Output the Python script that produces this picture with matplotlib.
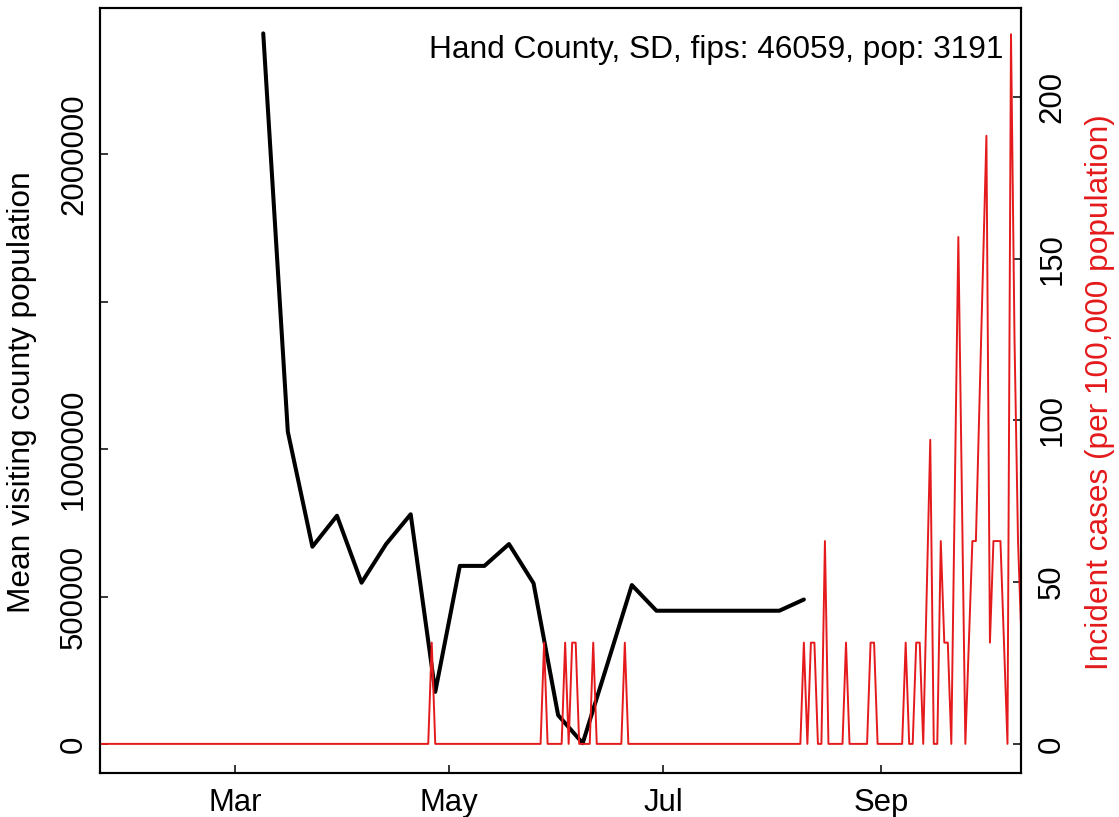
import numpy as np
import pandas as pd
import matplotlib
matplotlib.use("Agg")
import matplotlib.pyplot as plt

plt.rcParams["font.family"] = ["Liberation Sans", "DejaVu Sans"]

RED = "#E41A1C"

# weekly mean visiting-county population (black line, left axis)
visit_dates = ["2020-03-09", "2020-03-16", "2020-03-23", "2020-03-30", "2020-04-06",
               "2020-04-13", "2020-04-20", "2020-04-27", "2020-05-04", "2020-05-11",
               "2020-05-18", "2020-05-25", "2020-06-01", "2020-06-08", "2020-06-15",
               "2020-06-22", "2020-06-29", "2020-07-06", "2020-07-13", "2020-07-20",
               "2020-07-27", "2020-08-03", "2020-08-10"]
visit_pop = [2409000, 1059000, 669000, 774000, 547000,
             678000, 779000, 177000, 604000, 604000,
             678000, 545000, 98000, 3000, 270000,
             539000, 452000, 452000, 452000, 452000,
             452000, 452000, 490000]

# daily incident cases per 100,000 (red line, right axis)
case_dates = ["2020-01-21", "2020-04-25", "2020-04-26", "2020-04-27",
              "2020-05-27", "2020-05-28", "2020-05-29",
              "2020-06-02", "2020-06-03", "2020-06-04", "2020-06-05", "2020-06-06", "2020-06-07",
              "2020-06-10", "2020-06-11", "2020-06-12",
              "2020-06-19", "2020-06-20", "2020-06-21",
              "2020-08-09", "2020-08-10", "2020-08-11", "2020-08-12", "2020-08-13",
              "2020-08-14", "2020-08-15", "2020-08-16", "2020-08-17",
              "2020-08-21", "2020-08-22", "2020-08-23",
              "2020-08-28", "2020-08-29", "2020-08-30", "2020-08-31",
              "2020-09-07", "2020-09-08", "2020-09-09", "2020-09-10", "2020-09-11",
              "2020-09-12", "2020-09-13", "2020-09-15", "2020-09-16", "2020-09-17",
              "2020-09-18", "2020-09-19", "2020-09-20", "2020-09-21", "2020-09-23",
              "2020-09-25", "2020-09-27", "2020-09-28", "2020-10-01", "2020-10-02",
              "2020-10-03", "2020-10-04", "2020-10-05", "2020-10-07", "2020-10-08",
              "2020-10-09", "2020-10-10", "2020-10-11"]
case_rate = [0, 0, 31.3, 0,
             0, 31.3, 0,
             0, 31.3, 0, 31.3, 31.3, 0,
             0, 31.3, 0,
             0, 31.3, 0,
             0, 31.3, 0, 31.3, 31.3,
             0, 0, 62.7, 0,
             0, 31.3, 0,
             0, 31.3, 31.3, 0,
             0, 31.3, 0, 0, 31.3,
             31.3, 0, 94.0, 0, 0,
             62.7, 31.3, 31.3, 0, 156.7,
             0, 62.7, 62.7, 188.0, 31.3,
             62.7, 62.7, 62.7, 0, 219.4,
             125.3, 62.7, 31.3]

month_ticks = ["2020-03-01", "2020-05-01", "2020-07-01", "2020-09-01"]
month_labels = ["Mar", "May", "Jul", "Sep"]
pop_ticks = [0, 500000, 1000000, 1500000, 2000000]
pop_labels = ["0", "500000", "1000000", "", "2000000"]
rate_ticks = [0, 50, 100, 150, 200]

W, H = 1119, 817
fig = plt.figure(figsize=(W / 100, H / 100), dpi=100)
ax = fig.add_axes([100 / W, 1 - 773 / H, 920.5 / W, 765 / H])

ax.plot(pd.to_datetime(visit_dates), visit_pop, color="black", linewidth=2.9,
        solid_joinstyle="round", solid_capstyle="round")
ax.set_xlim(pd.Timestamp("2020-01-22 12:00"), pd.Timestamp("2020-10-10 17:00"))
ax.set_ylim(-98000, 2495000)
ax.set_xticks(pd.to_datetime(month_ticks))
ax.set_xticklabels(month_labels)
ax.set_yticks(pop_ticks)
ax.set_yticklabels(pop_labels, rotation=90, va="center")
ax.tick_params(direction="in", length=5.8, width=1.1, labelsize=22.4)
ax.tick_params(axis="y", pad=8)
ax.tick_params(axis="x", pad=11)

ax2 = ax.twinx()
ax2.plot(pd.to_datetime(case_dates), case_rate, color=RED, linewidth=1.4)
ax2.set_ylim(-9.0, 227.5)
ax2.set_yticks(rate_ticks)
ax2.set_yticklabels([str(t) for t in rate_ticks], rotation=90, va="center")
ax2.tick_params(direction="in", length=5.8, width=1.1, labelsize=22.4, pad=12)

for a in (ax, ax2):
    for s in a.spines.values():
        s.set_linewidth(1.5)

ax.text(0.981, 0.9346, "Hand County, SD, fips: 46059, pop: 3191", transform=ax.transAxes,
        ha="right", va="baseline", fontsize=22.8)

fig.text(22 / W, 1 - 392 / H, "Mean visiting county population", rotation=90,
         ha="center", va="center", fontsize=22.8)
fig.text(1100 / W, 1 - 392 / H, "Incident cases (per 100,000 population)", rotation=90,
         ha="center", va="center", fontsize=22.8, color=RED)

fig.savefig("out.png", dpi=100)
